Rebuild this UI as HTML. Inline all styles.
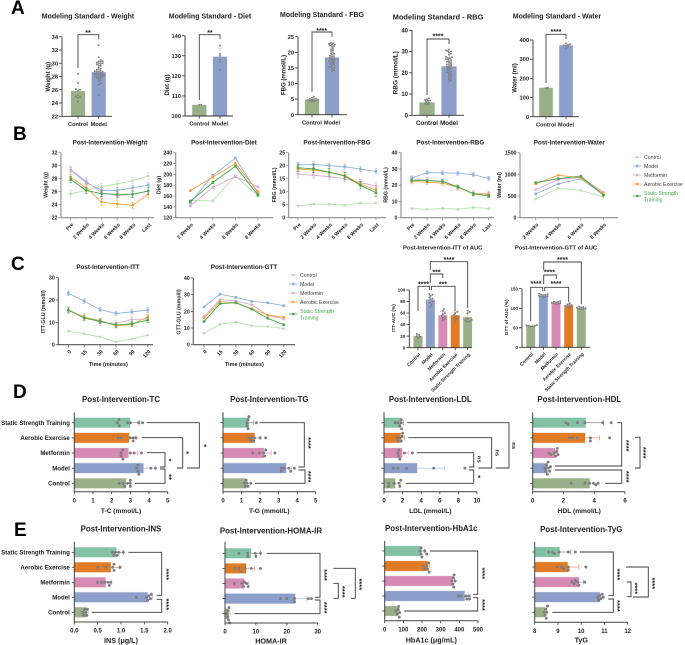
<!DOCTYPE html>
<html><head><meta charset="utf-8"><title>Intervention figure</title>
<style>
html,body{margin:0;padding:0;background:#fff;width:685px;height:645px;overflow:hidden}
svg{display:block;filter:blur(0.38px)}
text{font-family:"Liberation Sans",sans-serif}
</style></head>
<body>
<svg id="fig" xmlns="http://www.w3.org/2000/svg" width="685" height="645" viewBox="0 0 685 645"></svg>
<script>
// ---------- DATA ----------
var twoGroups=['Control','Model'];
var fiveGroups=['Control','Model','Metformin','Aerobic Exercise','Static Strength Training'];
var hGroups=['Static Strength Training','Aerobic Exercise','Metformin','Model','Control'];
var weeksSix=['Pre','2 Weeks','4 Weeks','6 Weeks','8 Weeks','Last'];
var weeksFour=['2 Weeks','4 Weeks','6 Weeks','8 Weeks'];
var timeLabels=['0','15','30','60','90','120'];

// Panel A
var aWeightMeans=[25.8,28.65], aWeightErr=[1.45,1.6];
var aWeightControl=[28.4,27,26,26.1,25.9,25.2,25,24.9,24.2,24.8];
var aWeightModel=[32.7,30.9,30.5,30.3,30.3,30.2,30.1,30,30,29.9,29.8,29.7,29.6,29.4,29.2,29.1,29,28.9,28.8,28.8,28.7,28.7,28.6,28.5,28.4,28.4,28.3,28.3,28.2,28.2,28.1,28.1,28,28,27.9,27.8,27.7,27.6,27.4,27.3,27,26.8,25.2];
var aDietMeans=[105.5,129.5], aDietErr=[0.3,4.3];
var aDietControl=[105.6,105.5];
var aDietModel=[135,131,130,128,127,123];
var aFbgMeans=[4.8,18.3], aFbgErr=[0.6,3.4];
var aFbgControl=[5.8,5.5,5.2,5.1,5,4.9,4.8,4.7,4.6,4.5,4.4,4.3];
var aFbgModel=[23,22.9,22.7,22.5,22.4,22.2,22,21.8,21.3,21,20.7,20.4,20,19.7,19.5,19.2,19,18.8,18.6,18.4,18.2,18,17.8,17.6,17.4,17.2,17,16.8,16.5,16.2,16,15.7,15.4,15.2,15,14.7,14.3,14];
var aRbgMeans=[6,23], aRbgErr=[1.2,4.3];
var aRbgControl=[8,7.5,7.2,7,6.8,6.5,6,5.8,5.5,5.2,5];
var aRbgModel=[31,30.5,30.2,30,29.5,29,28.5,27.5,27.3,27,26.8,26.5,26.2,26,25.5,25.2,25,24.7,24.2,24,23.7,23.4,23,22.8,22.4,22,21.7,21.3,21,20.6,20.2,20,19.5,19,18.6,18,17.5,17,16.5,16];
var aWaterMeans=[150,372], aWaterErr=[2,10];
var aWaterControl=[152,150];
var aWaterModel=[382,378,375,372,370,365,358];

// Panel B
var bWeightControl=[25.7,26.2,26.8,27.2,27.7,28.4];
var bWeightModel=[29.3,27.4,26.2,26.2,26.6,27];
var bWeightMet=[29.4,27.6,25.8,25.4,25.6,26.1];
var bWeightAE=[28.2,26.6,24.4,24.1,23.9,25.6];
var bWeightSST=[27.9,26.2,25.7,25.6,25.6,26.1];
var bWeightErr=[0.5,0.4,0.5,0.5,0.5];
var bDietControl=[152,151,197,160];
var bDietModel=[148,198,230,165];
var bDietMet=[142,176,196,177];
var bDietAE=[170,195,220,168];
var bDietSST=[150,185,215,162];
var bDietErr=[2,2,2,2,2];
var bFbgControl=[4.6,5.2,5.2,4.8,5.6,5.6];
var bFbgModel=[20.3,20.5,20,19.6,18.7,17.8];
var bFbgMet=[16.7,16.3,15.8,15,13.5,12.2];
var bFbgAE=[18.7,18.3,17.5,16.3,12.9,10.6];
var bFbgSST=[19.2,18.8,17.5,16,12.5,9.6];
var bFbgErr=[0.3,1,1.2,1,1.5];
var bRbgControl=[5.6,5.1,5.7,5.2,6.3,5.6];
var bRbgModel=[24.5,27.7,27.6,27.3,26.5,24.2];
var bRbgMet=[24,23,22.5,18.5,14.8,14.8];
var bRbgAE=[22.3,21.8,21.3,18.7,15,14.2];
var bRbgSST=[23,22.8,22.3,19,14.7,13.4];
var bRbgErr=[0.5,1.2,1.6,1.5,1];
var bWaterControl=[430,680,630,480];
var bWaterModel=[550,780,900,530];
var bWaterMet=[650,880,930,590];
var bWaterAE=[780,980,920,560];
var bWaterSST=[810,900,960,520];
var bWaterErr=[10,10,10,10,10];

// Panel C
var cIttControl=[6.1,4.9,3.5,1.3,2.6,4.3];
var cIttModel=[23,19.5,15.7,14,14.7,15.5];
var cIttMet=[15.4,12.5,10,9.5,11.3,11.5];
var cIttAE=[15.6,12.3,10.8,8.5,9,12.5];
var cIttSST=[15.5,11.9,10.5,8.8,9.4,11];
var cIttErr=[0.2,1,1.5,1,1];
var cGttControl=[6.8,12.3,13.5,11.3,10.9,9.7];
var cGttModel=[22.6,30.3,28.4,26,25.1,23.4];
var cGttMet=[16.9,27,26.2,24,17.5,15.5];
var cGttAE=[16,25.8,24.9,21.6,17.8,16.5];
var cGttSST=[13.9,24.6,25.3,21.2,15.8,12];
var cGttErr=[0.3,0.3,0.3,0.3,0.3];
var cIttAucMeans=[20,83,56,56,53], cIttAucErr=[3,7,7,6,7];
var cIttAucPts=[[24,22,20,19,17],[93,92,90,87,85,84,80,78,74,71],[67,64,60,58,55,54,52,50,48],[62,60,57,55,52,50,48,44],[64,62,60,50,48,47,46,45]];
var cGttAucMeans=[55,132,113,106,100], cGttAucErr=[2,3,3,4,3];
var cGttAucPts=[[57,56,55,55,54,53],[137,136,135,134,133,132,131,130,129,128],[118,117,116,115,114,113,112,111,110],[113,110,108,107,106,105,103,101],[104,103,102,101,100,99,98,97]];

// Panel D (rows top to bottom: SST, AE, Met, Model, Control)
var dTcMeans=[2.98,2.93,2.9,3.7,2.77], dTcErr=[3.5,3.3,3.4,4.35,3.0];
var dTcPts=[[2.3,2.4,2.4,2.85,3,3.45,3.65],[2.35,2.5,3,3.15,3.15,3.3],[2.5,2.5,2.6,2.6,3,3.2,3.6],[3.35,3.4,3.4,3.45,4.1,4.35],[2.4,2.6,2.7,2.85,3,3,3]];
var dTgMeans=[1.4,1.7,2.2,3.4,1.25], dTgErr=[1.65,2.05,2.6,3.7,1.5];
var dTgPts=[[1.3,1.3,1.35,1.35,1.4,1.8],[1.4,1.5,1.55,1.65,1.7,2,2.3],[1.6,1.95,2.2,2.25,2.3,2.8],[3.15,3.15,3.3,3.55,3.65,3.85],[1.15,1.2,1.25,1.3,1.35,1.5]];
var dLdlMeans=[1.8,1.8,1.95,3.55,1.2], dLdlErr=[2.1,2.2,2.6,6.5,1.8];
var dLdlPts=[[1.2,1.5,1.7,1.85,1.85,1.9],[1.4,1.5,1.7,1.85,1.95,2],[1.5,1.55,1.6,1.7,2.2,3.05],[1,1.5,2.45,5.35,8.7],[0.5,0.5,1.1,1.6,1.7,1.8]];
var dHdlMeans=[3.45,3.4,1.45,0.95,3.7], dHdlErr=[4.6,4.35,1.65,1.2,4.3];
var dHdlPts=[[2.15,2.3,2.9,3.4,4.55,5.1],[2.4,2.6,2.9,3.75,3.75,5],[1.05,1.2,1.4,1.5,1.55,1.6,1.65],[0.8,0.85,0.9,0.95,1,1,1.1,1.15],[2.5,3.4,3.7,3.95,4.1,4.25]];

// Panel E
var eInsMeans=[0.9,0.78,0.67,1.57,0.26], eInsErr=[1.05,0.97,0.8,1.68,0.3];
var eInsPts=[[0.82,0.85,0.88,0.92,0.95,1.05],[0.5,0.68,0.82,0.85,0.85,0.98],[0.5,0.58,0.65,0.72,0.75,0.78],[1.33,1.55,1.57,1.6,1.63,1.65],[0.18,0.2,0.22,0.25,0.27,0.28]];
var eHomaMeans=[8.4,6.8,6.2,22.7,1.2], eHomaErr=[11.5,9.5,7.7,26.5,1.7];
var eHomaPts=[[4.5,7.3,7.4,9.8,10,11.5],[3.2,4.5,5,6.5,8.5,11.5],[3,5.5,6,6.3,7,7.5],[18,20,22.5,22.5,27,28],[0.7,0.9,1,1.1,1.3,1.5]];
var eHbaMeans=[195,230,365,428,70], eHbaErr=[215,240,375,460,80];
var eHbaPts=[[190,195,195,200,215,225],[205,215,225,230,235,238],[360,365,368,370,372,378],[395,410,435,440,450,455],[60,68,72,75,78,80]];
var eTygMeans=[9.07,9.42,9.9,10.8,8.45], eTygErr=[9.55,9.9,10.1,10.95,8.52];
var eTygPts=[[8.6,8.75,8.85,9.05,9.45,9.75],[8.95,9.15,9.25,9.45,9.45,10.2],[9.6,9.7,9.75,9.85,9.9,10.15],[10.7,10.75,10.8,10.85,10.9,10.95],[8.4,8.45,8.48,8.5,8.52,8.55]];

// ---------- STYLE ----------
var GREEN='#98af88',BLUE='#8c9fca',PINK='#d78ab5',ORANGE='#e07a24',MINT='#85c2a5';
var lineColors=['#b7e2b0','#8fb2e0','#d9aad0','#f7a13c','#3ea84b'];
var hColors=[MINT,ORANGE,PINK,BLUE,GREEN];
var hErrColors=['#9a9a9a','#f0a070','#e49ccb','#b4c6e6','#cfdc9a'];
var AXIS='#333',TEXT='#222';

// ---------- HELPERS ----------
var SVGNS='http://www.w3.org/2000/svg';
var root=document.getElementById('fig');
function mk(parent,tag,attrs,name){
  var el=document.createElementNS(SVGNS,tag);
  for(var k in attrs){el.setAttribute(k,attrs[k]);}
  
  
  parent.appendChild(el);
  return el;
}
function txt(p,x,y,s,size,o,name){
  o=o||{};
  var dy=(o.star?0.55:0.36)*size;
  var a={x:x,y:y+dy,'font-size':size,'font-weight':o.weight||'bold',fill:o.fill||TEXT,'text-anchor':o.anchor||'middle'};
  if(o.rot){a.transform='rotate('+o.rot+' '+x+' '+y+')';}
  var t=mk(p,'text',a,name);
  t.textContent=s;
  return t;
}
function seg(p,x1,y1,x2,y2,c,w,name){
  return mk(p,'line',{x1:x1,y1:y1,x2:x2,y2:y2,stroke:c,'stroke-width':w},name);
}
function swarm(values,scale,r){
  var sorted=values.slice().sort(function(a,b){return a-b;});
  var placed=[];
  sorted.forEach(function(v){
    var pos=scale(v),off=0,n=0,ok=false;
    while(!ok){
      off=(n%2?1:-1)*Math.ceil(n/2)*r*1.05;
      ok=true;
      for(var i=0;i<placed.length;i++){
        var dp=placed[i].pos-pos,df=placed[i].off-off;
        if(dp*dp+df*df<r*r*3.2){ok=false;break;}
      }
      n++;
    }
    placed.push({pos:pos,off:off});
  });
  return placed;
}
function bracket(p,pts,w,c){
  var d='M'+pts[0]+' '+pts[1];
  for(var i=2;i<pts.length;i+=2){d+=' L'+pts[i]+' '+pts[i+1];}
  mk(p,'path',{d:d,fill:'none',stroke:c||'#444','stroke-width':w||0.9},'significance-bracket');
}
function stars(p,x,y,s,size,rot){
  txt(p,x,y,s,size,{star:s.indexOf('*')>=0,rot:rot,fill:'#222'},'significance-label');
}
function panelLetter(s,x,y){
  var t=mk(root,'text',{x:x,y:y,'font-size':19,'font-weight':'bold',fill:'#000'},'panel-letter-'+s.toLowerCase());
  t.textContent=s;
}

// Vertical bar chart
function barChart(c){
  var g=mk(root,'g',{},c.key+'-chart');
  var sy=function(v){return c.bottom-(v-c.min)/(c.max-c.min)*(c.bottom-c.top);};
  var sx=function(i){return c.first+i*c.step;};
  txt(g,c.titleX,c.titleY,c.title,c.titleSize||7,{},c.key+'-title');
  c.cats.forEach(function(cat,i){
    var x=sx(i),col=c.colors[i];
    mk(g,'rect',{x:x-c.barW/2,y:sy(c.means[i]),width:c.barW,height:c.bottom-sy(c.means[i]),fill:col,stroke:col,'stroke-opacity':0.25,'stroke-width':1},'bar-'+cat.toLowerCase().replace(/ /g,'-'));
    var e=c.errs[i],ec=c.errColors?c.errColors[i]:'#c9d8b8';
    seg(g,x,sy(c.means[i]),x,sy(c.means[i]+e),ec,0.7,'error-bar');
    seg(g,x-2.5,sy(c.means[i]+e),x+2.5,sy(c.means[i]+e),ec,0.7,'error-cap');
    swarm(c.pts[i],sy,c.dot).forEach(function(q){
      mk(g,'circle',{cx:x+q.off,cy:q.pos,r:c.dot,fill:'#808080'},'data-point');
    });
    seg(g,x,c.bottom,x,c.bottom+2.5,AXIS,0.8,'x-tick');
    if(c.rotCats){
      txt(g,x+1.5,c.bottom+6,cat,c.catSize||5,{anchor:'end',rot:-45},'x-tick-label');
    }else{
      txt(g,x,c.bottom+7.6,cat,c.catSize||5.6,{},'x-tick-label');
    }
  });
  seg(g,c.axisX,c.top,c.axisX,c.bottom,AXIS,0.9,'y-axis');
  seg(g,c.axisX,c.bottom,c.xEnd,c.bottom,AXIS,0.9,'x-axis');
  c.ticks.forEach(function(t){
    seg(g,c.axisX-3,sy(t),c.axisX,sy(t),AXIS,0.8,'y-tick');
    txt(g,c.axisX-4,sy(t),String(t),c.tickSize||5.7,{anchor:'end'},'y-tick-label');
  });
  txt(g,c.labelX,c.labelY,c.ylabel,c.labelSize||6.1,{rot:-90},'y-axis-title');
  (c.brackets||[]).forEach(function(b){bracket(g,b);});
  (c.sig||[]).forEach(function(s){stars(g,s[0],s[1],s[2],7,0);});
}

// Line chart
function lineChart(c){
  var g=mk(root,'g',{},c.key+'-chart');
  var sy=function(v){return c.bottom-(v-c.min)/(c.max-c.min)*(c.bottom-c.top);};
  var sx=function(i){return c.first+i*c.step;};
  txt(g,c.titleX,c.titleY,c.title,c.titleSize||6.3,{},c.key+'-title');
  c.series.forEach(function(vals,s){
    var col=lineColors[s];
    var pts=vals.map(function(v,i){return sx(i)+','+sy(v);}).join(' ');
    vals.forEach(function(v,i){
      var e=c.err[s];
      seg(g,sx(i),sy(v-e),sx(i),sy(v+e),col,0.6,'error-bar');
      seg(g,sx(i)-1.5,sy(v+e),sx(i)+1.5,sy(v+e),col,0.5,'error-cap');
      seg(g,sx(i)-1.5,sy(v-e),sx(i)+1.5,sy(v-e),col,0.5,'error-cap');
    });
    mk(g,'polyline',{points:pts,fill:'none',stroke:col,'stroke-width':0.9},'line-'+fiveGroups[s].toLowerCase().replace(/ /g,'-'));
    vals.forEach(function(v,i){
      if(s===1){mk(g,'rect',{x:sx(i)-1.3,y:sy(v)-1.3,width:2.6,height:2.6,fill:col},'line-point');}
      else{mk(g,'circle',{cx:sx(i),cy:sy(v),r:1.3,fill:col},'line-point');}
    });
  });
  seg(g,c.axisX,c.top,c.axisX,c.bottom,c.axisColor,1.1,'y-axis');
  seg(g,c.axisX,c.bottom,c.xEnd,c.bottom,c.axisColor,1.1,'x-axis');
  c.ticks.forEach(function(t){
    seg(g,c.axisX-2.5,sy(t),c.axisX,sy(t),c.axisColor,0.8,'y-tick');
    txt(g,c.axisX-3.5,sy(t),String(t),5.3,{anchor:'end'},'y-tick-label');
  });
  c.cats.forEach(function(cat,i){
    seg(g,sx(i),c.bottom,sx(i),c.bottom+2.5,c.axisColor,0.8,'x-tick');
    txt(g,sx(i)+1.8,c.bottom+6,cat,5.1,{anchor:'end',rot:-45},'x-tick-label');
  });
  txt(g,c.labelX,c.labelY,c.ylabel,5.3,{rot:-90},'y-axis-title');
  if(c.xlabel){txt(g,c.xlabelX,c.xlabelY,c.xlabel,5.5,{},'x-axis-title');}
}

function legend(key,lineX,textX,ys,lastYs){
  var g=mk(root,'g',{},key);
  fiveGroups.forEach(function(n,i){
    var col=lineColors[i],y=ys[i];
    seg(g,lineX,y,lineX+8.5,y,col,0.8,'legend-line');
    if(i===1){mk(g,'rect',{x:lineX+3,y:y-1.3,width:2.6,height:2.6,fill:col},'legend-marker');}
    else{mk(g,'circle',{cx:lineX+4.2,cy:y,r:1.3,fill:col},'legend-marker');}
    if(i<4){txt(g,textX,y,n,5.2,{anchor:'start',weight:'normal',fill:'#444'},'legend-label');}
  });
  txt(g,textX,lastYs[0],'Static Strength',5.2,{anchor:'start',weight:'normal',fill:'#45a94e'},'legend-label');
  txt(g,textX,lastYs[1],'Training',5.2,{anchor:'start',weight:'normal',fill:'#45a94e'},'legend-label');
}

// Horizontal bar chart
function hChart(c){
  var g=mk(root,'g',{},c.key+'-chart');
  var sx=function(v){return c.axisX+(v-c.min)/(c.max-c.min)*(c.xEnd-c.axisX);};
  var sy=function(i){return c.firstY+i*c.stepY;};
  txt(g,c.titleX,c.titleY,c.title,7.9,{},c.key+'-title');
  hGroups.forEach(function(n,i){
    var y=sy(i),col=hColors[i],e=sx(c.errs[i]);
    mk(g,'rect',{x:c.axisX,y:y-4.9,width:sx(c.means[i])-c.axisX,height:9.8,fill:col,stroke:col,'stroke-opacity':0.25,'stroke-width':1},'bar-'+n.toLowerCase().replace(/ /g,'-'));
    seg(g,sx(c.means[i]),y,e,y,hErrColors[i],0.8,'error-bar');
    seg(g,e,y-2.5,e,y+2.5,hErrColors[i],0.8,'error-cap');
    swarm(c.pts[i],sx,1.45).forEach(function(q){
      mk(g,'circle',{cx:q.pos,cy:y+q.off,r:1.45,fill:'#7d7d7d'},'data-point');
    });
    seg(g,c.axisX-2.5,y,c.axisX,y,AXIS,0.8,'y-tick');
    if(c.showCats){txt(g,c.axisX-4.5,y,n,6.1,{anchor:'end'},'category-label');}
  });
  seg(g,c.axisX,c.top,c.axisX,c.bottom,'#444',1,'y-axis');
  seg(g,c.axisX,c.bottom,c.xEnd,c.bottom,'#444',1,'x-axis');
  c.ticks.forEach(function(t){
    seg(g,sx(t),c.bottom,sx(t),c.bottom+2.5,AXIS,0.8,'x-tick');
    txt(g,sx(t),c.bottom+8.5,c.tickFmt?c.tickFmt(t):String(t),6,{},'x-tick-label');
  });
  txt(g,c.labelX,c.labelY,c.xlabel,c.labelSize||6.6,{},'x-axis-title');
  (c.brackets||[]).forEach(function(b){bracket(g,b,0.9,'#3a3a3a');});
  (c.sig||[]).forEach(function(s){stars(g,s[0],s[1],s[2],s[2]==='ns'?5.8:7.5,90);});
}

// ---------- PANEL A ----------
panelLetter('A',11,14);
barChart({key:'a-weight',title:'Modeling Standard - Weight',titleX:88,titleY:16,axisX:62,xEnd:112,top:36.7,bottom:116.3,min:22,max:34,ticks:[22,24,26,28,30,32,34],first:78,step:20.7,barW:14,cats:twoGroups,means:aWeightMeans,errs:aWeightErr,pts:[aWeightControl,aWeightModel],colors:[GREEN,BLUE],dot:0.95,ylabel:'Weight (g)',labelX:48,labelY:76.7,brackets:[[78,68,78,34.7,98.7,34.7,98.7,39.3]],sig:[[88,31,'**']]});
barChart({key:'a-diet',title:'Modeling Standard - Diet',titleX:210,titleY:16,axisX:185,xEnd:233,top:35.7,bottom:116,min:100,max:140,ticks:[100,110,120,130,140],first:199.3,step:20.7,barW:14,cats:twoGroups,means:aDietMeans,errs:aDietErr,pts:[aDietControl,aDietModel],colors:[GREEN,BLUE],dot:0.95,ylabel:'Diet (g)',labelX:166.7,labelY:85,brackets:[[199.3,100,199.3,34.7,220,34.7,220,39.3]],sig:[[210,31,'**']]});
barChart({key:'a-fbg',title:'Modeling Standard - FBG',titleX:322,titleY:14.3,axisX:298,xEnd:347,top:36.7,bottom:114.7,min:0,max:25,ticks:[0,5,10,15,20,25],first:312,step:20,barW:14,cats:twoGroups,means:aFbgMeans,errs:aFbgErr,pts:[aFbgControl,aFbgModel],colors:[GREEN,BLUE],dot:0.95,ylabel:'FBG (mmol/L)',labelX:283.3,labelY:75,brackets:[[312,91.7,312,32,332,32,332,36.7]],sig:[[321.7,29,'****']]});
barChart({key:'a-rbg',title:'Modeling Standard - RBG',titleX:438,titleY:17,titleSize:7.5,axisX:412,xEnd:464,top:30.3,bottom:115.3,min:0,max:40,ticks:[0,10,20,30,40],first:427,step:22,barW:15,cats:twoGroups,means:aRbgMeans,errs:aRbgErr,pts:[aRbgControl,aRbgModel],colors:[GREEN,BLUE],dot:0.95,ylabel:'RBG (mmol/L)',labelX:395.3,labelY:72.7,labelSize:6.4,catSize:6.2,tickSize:6,brackets:[[427,95,427,39,449,39,449,44]],sig:[[438,34.7,'****']]});
barChart({key:'a-water',title:'Modeling Standard - Water',titleX:557,titleY:16,axisX:533,xEnd:579,top:40,bottom:116.7,min:0,max:400,ticks:[0,100,200,300,400],first:546,step:20,barW:13.5,cats:twoGroups,means:aWaterMeans,errs:aWaterErr,pts:[aWaterControl,aWaterModel],colors:[GREEN,BLUE],dot:0.95,ylabel:'Water (ml)',labelX:514.3,labelY:78,brackets:[[546,83,546,34.3,566,34.3,566,39]],sig:[[556,30.3,'****']]});

// ---------- PANEL B ----------
panelLetter('B',13,140);
var G='#8c8c8c';
lineChart({key:'b-weight',title:'Post-Intervention-Weight',titleX:110,titleY:142.3,axisX:61,xEnd:154,top:152.7,bottom:217.7,min:22,max:32,ticks:[22,24,26,28,30,32],first:70.7,step:15.5,cats:weeksSix,series:[bWeightControl,bWeightModel,bWeightMet,bWeightAE,bWeightSST],err:bWeightErr,ylabel:'Weight (g)',labelX:45.7,labelY:185,axisColor:G});
lineChart({key:'b-diet',title:'Post-Intervention-Diet',titleX:224,titleY:142.3,axisX:175.7,xEnd:273,top:152.7,bottom:217.7,min:120,max:240,ticks:[120,140,160,180,200,220,240],first:190.3,step:22.55,cats:weeksFour,series:[bDietControl,bDietModel,bDietMet,bDietAE,bDietSST],err:bDietErr,ylabel:'Diet (g)',labelX:158.7,labelY:185,axisColor:G});
lineChart({key:'b-fbg',title:'Post-Intervention-FBG',titleX:337,titleY:142.3,axisX:288.7,xEnd:386,top:152.7,bottom:217.7,min:0,max:25,ticks:[0,5,10,15,20,25],first:298,step:15.6,cats:weeksSix,series:[bFbgControl,bFbgModel,bFbgMet,bFbgAE,bFbgSST],err:bFbgErr,ylabel:'FBG (mmol/L)',labelX:274,labelY:185,axisColor:G});
lineChart({key:'b-rbg',title:'Post-Intervention-RBG',titleX:450.3,titleY:142.3,axisX:401,xEnd:494,top:152.7,bottom:217.7,min:0,max:40,ticks:[0,10,20,30,40],first:411.7,step:15.4,cats:weeksSix,series:[bRbgControl,bRbgModel,bRbgMet,bRbgAE,bRbgSST],err:bRbgErr,ylabel:'RBG (mmol/L)',labelX:385.7,labelY:185,axisColor:G});
lineChart({key:'b-water',title:'Post-Intervention-Water',titleX:569.3,titleY:142.3,axisX:520,xEnd:618,top:152.7,bottom:217.7,min:0,max:1500,ticks:[0,500,1000,1500],first:535.7,step:22.55,cats:weeksFour,series:[bWaterControl,bWaterModel,bWaterMet,bWaterAE,bWaterSST],err:bWaterErr,ylabel:'Water (ml)',labelX:499.3,labelY:185,axisColor:G});
legend('legend-panel-b',633,644,[157.3,166,175,184,196],[193.3,199.5]);

// ---------- PANEL C ----------
panelLetter('C',11,270);
lineChart({key:'c-itt',title:'Post-Intervention-ITT',titleX:108,titleY:266.7,axisX:58.3,xEnd:153,top:277.7,bottom:344.7,min:0,max:30,ticks:[0,10,20,30],first:68.3,step:15.9,cats:timeLabels,series:[cIttControl,cIttModel,cIttMet,cIttAE,cIttSST],err:cIttErr,ylabel:'ITT-GLU (mmol/l)',labelX:43.3,labelY:311.7,xlabel:'Time (minutes)',xlabelX:108.3,xlabelY:364,axisColor:'#555'});
lineChart({key:'c-gtt',title:'Post-Intervention-GTT',titleX:244,titleY:266.7,axisX:193.3,xEnd:295,top:278,bottom:344.7,min:0,max:40,ticks:[0,10,20,30,40],first:204,step:15.95,cats:timeLabels,series:[cGttControl,cGttModel,cGttMet,cGttAE,cGttSST],err:cGttErr,ylabel:'GTT-GLU (mmol/l)',labelX:178.7,labelY:312,xlabel:'Time (minutes)',xlabelX:244.3,xlabelY:364,axisColor:'#555'});
legend('legend-panel-c',289,300,[275,284,293,302,314],[311,317.5]);
barChart({key:'c-itt-auc',title:'Post-Intervention-ITT of AUC',titleX:442.7,titleY:247.3,titleSize:5.8,axisX:409.3,xEnd:471.7,top:290,bottom:347.7,min:0,max:100,ticks:[0,20,40,60,80,100],first:418,step:12.4,barW:8.7,cats:fiveGroups,means:cIttAucMeans,errs:cIttAucErr,pts:cIttAucPts,colors:[GREEN,BLUE,PINK,ORANGE,GREEN],errColors:['#d8dc80','#b4c6e6','#e49ccb','#f0a070','#cfdc9a'],dot:1,ylabel:'ITT-AUC (%)',labelX:393.3,labelY:318,labelSize:4.8,tickSize:4.5,rotCats:true,catSize:4.7,brackets:[[418,311,418,286.3,429.5,286.3,429.5,290],[431.5,290,431.5,286.3,455,286.3,455,311],[430.3,283,430.3,274,442.7,274,442.7,278],[430.3,270,430.3,261.7,467.7,261.7,467.7,308]],sig:[[423.5,282.5,'****'],[443,282.5,'***'],[436.5,270.5,'***'],[449,258,'****']]});
barChart({key:'c-gtt-auc',title:'Post-Intervention-GTT of AUC',titleX:556,titleY:247.3,titleSize:5.8,axisX:522,xEnd:590,top:288.7,bottom:347.3,min:0,max:150,ticks:[0,50,100,150],first:530.7,step:12.65,barW:8.7,cats:fiveGroups,means:cGttAucMeans,errs:cGttAucErr,pts:cGttAucPts,colors:[GREEN,BLUE,PINK,ORANGE,GREEN],errColors:['#d8dc80','#b4c6e6','#e49ccb','#f0a070','#cfdc9a'],dot:1,ylabel:'GTT of AUC (%)',labelX:506.3,labelY:317.3,labelSize:4.8,tickSize:4.5,rotCats:true,catSize:4.7,brackets:[[530.7,321,530.7,287.3,542.7,287.3,542.7,291],[544.7,291,544.7,287.3,568.7,287.3,568.7,302],[543.7,284,543.7,275,556.3,275,556.3,279],[543.7,270,543.7,262,581.3,262,581.3,304]],sig:[[536,282,'****'],[556,282,'****'],[549.5,270.5,'****'],[562.5,258,'****']]});

// ---------- PANEL D ----------
panelLetter('D',13,398);
var dBase={firstY:422.7,stepY:15.15,top:412.3,bottom:491.7,titleY:399.3,labelY:510.7};
function withBase(b,c){for(var k in b){c[k]=b[k];}return c;}
hChart(withBase(dBase,{key:'d-tc',title:'Post-Intervention-TC',titleX:121,axisX:74.3,xEnd:167.7,min:0,max:5,ticks:[0,1,2,3,4,5],means:dTcMeans,errs:dTcErr,pts:dTcPts,showCats:true,xlabel:'T-C (mmol/L)',labelX:121,
 brackets:[[135,483.3,165,483.3,165,469,160,469],[147,452.7,165,452.7,165,467,160,467],[141.7,437.7,182.7,437.7,182.7,468,177,468],[146.7,422.7,199.3,422.7,199.3,468,187,468]],
 sig:[[170.7,477,'**'],[170.7,460,'*'],[188.3,452.7,'*'],[205.7,445.7,'*']]}));
hChart(withBase(dBase,{key:'d-tg',title:'Post-Intervention-TG',titleX:269.3,axisX:223,xEnd:315.7,min:0,max:5,ticks:[0,1,2,3,4,5],means:dTgMeans,errs:dTgErr,pts:dTgPts,xlabel:'T-G (mmol/L)',labelX:269.3,
 brackets:[[255,483.3,305,483.3,305,470,298.3,470],[259.5,422.7,304.3,422.7,304.3,467,298.3,467]],
 sig:[[310,443,'****'],[310,476.7,'****']]}));
hChart(withBase(dBase,{key:'d-ldl',title:'Post-Intervention-LDL',titleX:430.3,axisX:384,xEnd:477,min:0,max:10,ticks:[0,2,4,6,8,10],means:dLdlMeans,errs:dLdlErr,pts:dLdlPts,xlabel:'LDL (mmol/L)',labelX:430.3,
 brackets:[[405.7,483.3,473.7,483.3,473.7,470,469,470],[416.7,452.7,473.7,452.7,473.7,467,469,467],[408.3,437.7,491.7,437.7,491.7,468,478.3,468],[407.3,422.7,509,422.7,509,468,495.7,468]],
 sig:[[479.7,476.7,'*'],[479.7,459.3,'ns'],[497.7,452.7,'ns'],[514.3,445.7,'ns']]}));
hChart(withBase(dBase,{key:'d-hdl',title:'Post-Intervention-HDL',titleX:579.3,axisX:532.7,xEnd:625,min:0,max:6,ticks:[0,2,4,6],means:dHdlMeans,errs:dHdlErr,pts:dHdlPts,xlabel:'HDL (mmol/L)',labelX:579.3,
 brackets:[[605,483.3,621.7,483.3,621.7,470,555,470],[617.3,422.7,621.7,422.7,621.7,466,555,466],[635,437.3,640,437.3,640,468,635,468]],
 sig:[[628.3,445.7,'****'],[628.3,476.7,'****'],[645,452.7,'****']]}));

// ---------- PANEL E ----------
panelLetter('E',14,536);
var fmtOne=function(t){return t.toFixed(1);};
hChart({key:'e-ins',title:'Post-Intervention-INS',titleX:121,titleY:528.7,axisX:74.3,xEnd:167.7,firstY:552.3,stepY:15,top:541.7,bottom:622,min:0,max:2,ticks:[0,0.5,1,1.5,2],tickFmt:fmtOne,means:eInsMeans,errs:eInsErr,pts:eInsPts,showCats:true,xlabel:'INS (μg/L)',labelX:121,labelY:640.3,labelSize:7.2,
 brackets:[[91.7,612.3,161.7,612.3,161.7,599.3,156.7,599.3],[128.3,552.3,161.7,552.3,161.7,595.3,156.7,595.3]],
 sig:[[168.3,574.3,'****'],[168.3,604.3,'****']]});
hChart({key:'e-homa',title:'Post-Intervention-HOMA-IR',titleX:271,titleY:530.7,axisX:225,xEnd:317.7,firstY:553.3,stepY:15.1,top:541.7,bottom:623,min:0,max:30,ticks:[0,10,20,30],means:eHomaMeans,errs:eHomaErr,pts:eHomaPts,xlabel:'HOMA-IR',labelX:271,labelY:641,labelSize:7.2,
 brackets:[[234.3,613.7,320,613.7,320,600,315,600],[266.7,553.3,320,553.3,320,597.3,315,597.3],[333.3,568.3,355.3,568.3,355.3,598.3,350.7,598.3],[333.3,583.3,338.3,583.3,338.3,598.3,333.3,598.3]],
 sig:[[326.3,575,'****'],[326.3,607.7,'****'],[344,591.7,'****'],[361.3,584.3,'****']]});
hChart({key:'e-hba1c',title:'Post-Intervention-HbA1c',titleX:431.3,titleY:528,axisX:384.7,xEnd:478,firstY:551,stepY:15,top:541,bottom:620.7,min:0,max:500,ticks:[0,100,200,300,400,500],means:eHbaMeans,errs:eHbaErr,pts:eHbaPts,xlabel:'HbA1c (μg/mL)',labelX:431.3,labelY:639.7,labelSize:7.2,
 brackets:[[404,611,477.7,611,477.7,597.7,473.3,597.7],[430,551,477.7,551,477.7,594.3,473.3,594.3]],
 sig:[[484,573.3,'****'],[484,605,'****']]});
hChart({key:'e-tyg',title:'Post-Intervention-TyG',titleX:581.3,titleY:529,axisX:534.7,xEnd:627.7,firstY:552,stepY:15.05,top:541.7,bottom:622.3,min:8,max:12,ticks:[8,9,10,11,12],means:eTygMeans,errs:eTygErr,pts:eTygPts,xlabel:'TyG',labelX:581.3,labelY:640,labelSize:7.2,
 brackets:[[552.3,612.3,613.3,612.3,613.3,599,608.3,599],[580,552,613.3,552,613.3,595.7,608.3,595.7],[626.7,582,631,582,631,596.7,626.7,596.7],[626,567,648.3,567,648.3,597,633,597]],
 sig:[[619,574.3,'****'],[619,606,'****'],[636.7,588.3,'****'],[654.3,583.3,'****']]});
</script>
</body></html>
